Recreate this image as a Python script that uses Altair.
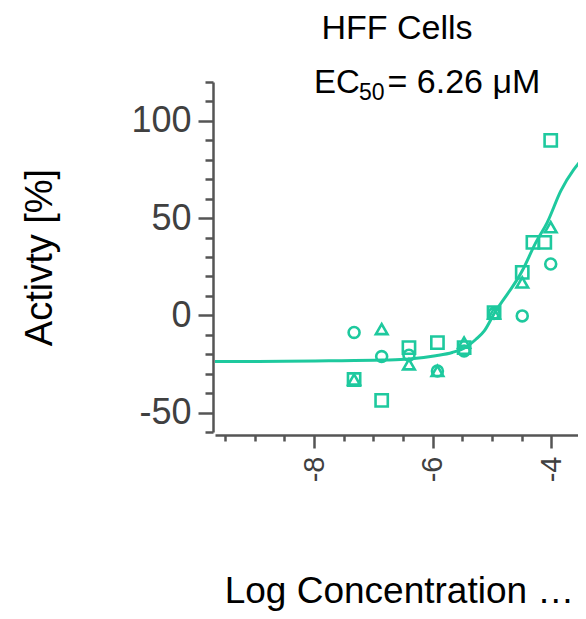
import altair as alt
import pandas as pd

# ---- data ----
conc = [-7.325, -6.86, -6.40, -5.92, -5.47, -4.965, -4.49, -4.01]
rep_circle = [-8.8, -21.2, -20.5, -28.6, -18.3, 1.0, -0.3, 26.4]
rep_triangle = [-33.0, -7.1, -25.2, -28.6, -14.0, 1.0, 16.9, 45.3]
rep_square = [-33.0, -43.7, -16.6, -14.0, -16.6, 1.4, 22.1, 90.0]
extra_square_x = [-4.31, -4.11]
extra_square_y = [37.5, 37.5]

curve_x = [-9.67, -8.5, -7.75, -6.85, -6.40, -5.95, -5.67, -5.47, -5.27, -5.13,
           -4.965, -4.49, -4.26, -4.07, -3.84, -3.41]
curve_y = [-23.8, -23.6, -23.4, -23.0, -22.5, -20.8, -19.1, -16.9, -12.3, -8.0,
           0.8, 22.9, 37.5, 47.7, 64.0, 82.9]

x_ticks = [-9.5, -9.0, -8.5, -8.0, -7.5, -7.0, -6.5, -6.0, -5.5, -5.0, -4.5, -4.0]
y_ticks = [-60, -50, -40, -30, -20, -10, 0, 10, 20, 30, 40, 50, 60, 70, 80, 90, 100, 110, 120]

title_line1 = "HFF Cells"
title_ec = "EC"
title_sub = "50"
title_rest = "= 6.26 \u03bcM"
x_title = "Log Concentration \u2026"
y_title = "Activty [%]"

TEAL = "#1ec99e"
AXC = "#555555"
FONT = "Liberation Sans"

# ---- tables ----
rows = []
for x, y in zip(conc, rep_circle):
    rows.append({"x": x, "y": y, "rep": "circle"})
for x, y in zip(conc, rep_triangle):
    rows.append({"x": x, "y": y, "rep": "triangle"})
for x, y in zip(conc, rep_square):
    rows.append({"x": x, "y": y, "rep": "square"})
for x, y in zip(extra_square_x, extra_square_y):
    rows.append({"x": x, "y": y, "rep": "square"})
pts = pd.DataFrame(rows)
curve = pd.DataFrame({"x": curve_x, "y": curve_y})

xscale = alt.Scale(domain=[-9.67, -3.55], nice=False, zero=False)
yscale = alt.Scale(domain=[-60, 120], nice=False, zero=False)

xaxis = alt.Axis(
    values=x_ticks,
    labelExpr="datum.value % 2 === 0 ? '' + datum.value : ''",
    labelAngle=-90, labelFont=FONT, labelFontSize=29, labelColor="#404040",
    labelPadding=8, labelOverlap=False, labelFlush=False,
    tickSize={"condition": {"test": "datum.value % 2 === 0", "value": 13}, "value": 6},
    tickWidth=2.5, tickColor=AXC, domainColor=AXC, domainWidth=2.5,
    grid=False, offset=3,
    title=x_title, titleFont=FONT, titleFontSize=37, titleFontWeight="normal",
    titleColor="black", titleX=184, titleY=167, titleAlign="center",
    titleBaseline="alphabetic", titleAngle=0,
)
yaxis = alt.Axis(
    values=y_ticks,
    labelExpr="datum.value % 50 === 0 ? '' + datum.value : ''",
    labelFont=FONT, labelFontSize=36, labelColor="#404040",
    labelPadding=7, labelOverlap=False, labelFlush=False,
    tickSize={"condition": {"test": "datum.value % 50 === 0", "value": 15}, "value": 8},
    tickWidth=2.5, tickColor=AXC, domainColor=AXC, domainWidth=2.5,
    grid=False, offset=2,
    title=y_title, titleFont=FONT, titleFontSize=38, titleFontWeight="normal",
    titleColor="black", titleX=-173, titleY=175, titleAlign="center",
    titleBaseline="middle", titleAngle=-90,
)

X = alt.X("x:Q", scale=xscale, axis=xaxis)
Y = alt.Y("y:Q", scale=yscale, axis=yaxis)

line = alt.Chart(curve).mark_line(color=TEAL, strokeWidth=3, interpolate="monotone", clip=True).encode(x=X, y=Y)

points = alt.Chart(pts).mark_point(filled=False, strokeWidth=2.6, color=TEAL, opacity=1).encode(
    x=X, y=Y,
    shape=alt.Shape("rep:N", scale=alt.Scale(domain=["circle", "triangle", "square"],
                                             range=["circle", "triangle-up", "square"]), legend=None),
    size=alt.Size("rep:N", scale=alt.Scale(domain=["circle", "triangle", "square"],
                                           range=[120, 150, 156]), legend=None),
)

one = pd.DataFrame({"k": [0]})
t1 = alt.Chart(one).mark_text(align="center", baseline="alphabetic", font=FONT, fontSize=34, color="black").encode(
    x=alt.value(182), y=alt.value(-43), text=alt.value(title_line1))
t2 = alt.Chart(one).mark_text(align="left", baseline="alphabetic", font=FONT, fontSize=33, color="black").encode(
    x=alt.value(99), y=alt.value(11.3), text=alt.value(title_ec))
t3 = alt.Chart(one).mark_text(align="left", baseline="alphabetic", font=FONT, fontSize=23, color="black").encode(
    x=alt.value(144), y=alt.value(18), text=alt.value(title_sub))
t4 = alt.Chart(one).mark_text(align="left", baseline="alphabetic", font=FONT, fontSize=34, color="black").encode(
    x=alt.value(172.5), y=alt.value(11.3), text=alt.value(title_rest))

chart = alt.layer(line, points, t1, t2, t3, t4).properties(
    width=363, height=350,
    padding={"left": 207, "top": 74, "right": 0, "bottom": 179},
    autosize=alt.AutoSizeParams(type="none"),
).configure_view(stroke=None)

chart.save("out.html", embed_options={"renderer": "svg", "actions": False})
